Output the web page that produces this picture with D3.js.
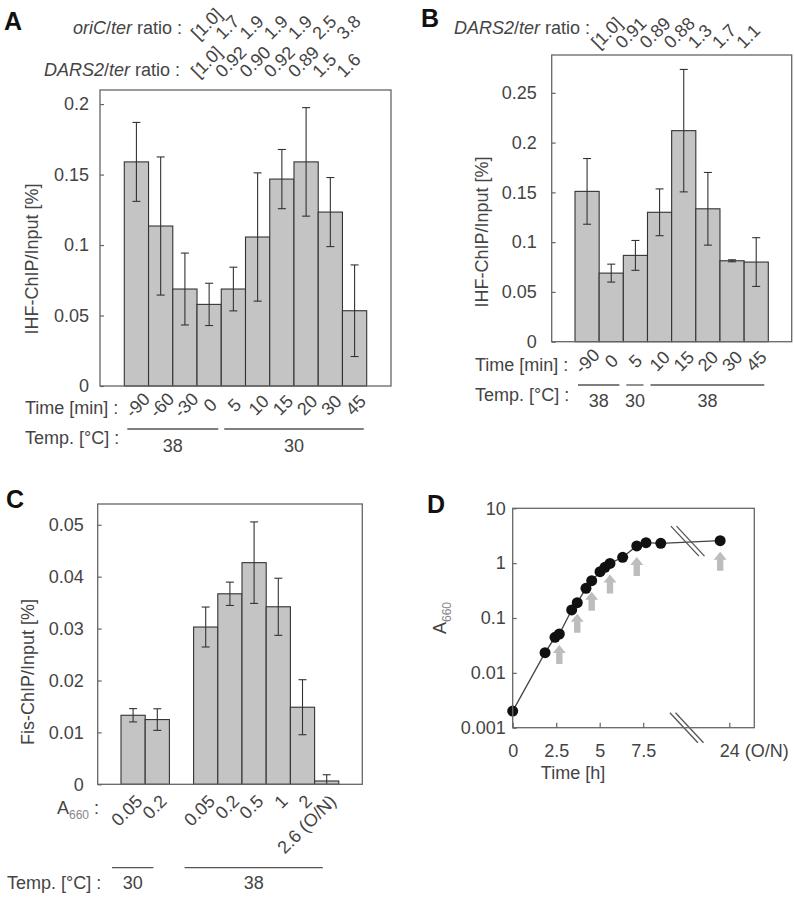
<!DOCTYPE html>
<html><head><meta charset="utf-8">
<script src="https://cdn.jsdelivr.net/npm/d3@7"></script>
<style>
body{margin:0;background:#fff;}
svg text{font-family:"Liberation Sans",Arial,Helvetica,sans-serif;fill:#444;}
</style></head><body>
<svg id="fig" width="794" height="899"></svg>
<script>
// ---------------- DATA ----------------
// Panel A: IHF-ChIP, time course
const aTime = ["-90","-60","-30","0","5","10","15","20","30","45"];
const aValue = [0.159,0.1135,0.0688,0.0579,0.0688,0.1057,0.1468,0.159,0.1234,0.0534];
const aError = [0.028,0.049,0.0255,0.015,0.0155,0.0455,0.021,0.0385,0.0245,0.0325];
const aOriCRatio = ["[1.0]","1.7","1.9","1.9","1.9","2.5","3.8"];     // bars 0,5,...,45 min
const aDarsRatio = ["[1.0]","0.92","0.90","0.92","0.89","1.5","1.6"];
const aRatioStart = 3;
const aTemp = ["38","38","38","38","30","30","30","30","30","30"];
const aYTicks = [0,0.05,0.1,0.15,0.2];

// Panel B: IHF-ChIP
const bTime = ["-90","0","5","10","15","20","30","45"];
const bValue = [0.151,0.0689,0.0867,0.130,0.212,0.1335,0.0813,0.080];
const bError = [0.033,0.009,0.015,0.0235,0.0615,0.0365,0.001,0.0245];
const bDarsRatio = ["[1.0]","0.91","0.89","0.88","1.3","1.7","1.1"];
const bRatioStart = 1;
const bTemp = ["38","38","30","38","38","38","38","38"];
const bYTicks = [0,0.05,0.1,0.15,0.2,0.25];

// Panel C: Fis-ChIP
const cA660 = ["0.05","0.2","0.05","0.2","0.5","1","2","2.6 (O/N)"];
const cTemp = ["30","30","38","38","38","38","38","38"];
const cValue = [0.0133,0.01247,0.0303,0.0367,0.0427,0.0342,0.01485,0.00064];
const cError = [0.00128,0.00208,0.00385,0.00225,0.00785,0.0055,0.0053,0.0012];
const cYTicks = [0,0.01,0.02,0.03,0.04,0.05];

// Panel D: growth curve
const dTime = [0,1.86,2.43,2.68,3.39,3.71,4.21,4.54,5.02,5.30,5.59,6.32,7.13,7.66,8.51,21];
const dA660 = [0.00201,0.0233,0.0445,0.0511,0.140,0.190,0.348,0.479,0.698,0.839,0.99,1.28,2.06,2.36,2.30,2.57];
const dSampled = [3,5,7,10,12,15];
const dXTicks = [0,2.5,5,7.5,24];
const dXTickLabels = ["0","2.5","5","7.5","24 (O/N)"];
const dYTicks = [0.001,0.01,0.1,1,10];
const dYTickLabels = ["0.001","0.01","0.1","1","10"];
const dBreakAt = 10;

// ---------------- STYLE ----------------
const FS = 18, TXT = "#444", FRAME = "#666", BARFILL = "#c4c4c4", BARSTROKE = "#333";
const svg = d3.select("#fig");

function styleAxis(g){
  g.select(".domain").remove();
  g.selectAll("line").attr("stroke", FRAME).attr("stroke-width",1.2);
  g.selectAll("text").attr("font-size", FS).attr("fill", TXT)
    .attr("font-family","Liberation Sans, Arial, sans-serif");
}
function panelLetter(t,x,y){
  svg.append("text").attr("x",x).attr("y",y).attr("font-size",25).attr("font-weight","bold")
    .style("fill","#111").text(t);
}
function frame(x0,y0,x1,y1){
  svg.append("rect").attr("x",x0).attr("y",y0).attr("width",x1-x0).attr("height",y1-y0)
    .attr("fill","none").attr("stroke",FRAME).attr("stroke-width",1.3);
}
function yTitle(x,y,t){
  svg.append("text").attr("transform",`translate(${x},${y}) rotate(-90)`)
    .attr("text-anchor","middle").attr("dy","0.35em").attr("font-size",FS).text(t);
}
function ratioLabel(g,txt,x,y){
  const t = g.append("text").attr("x",x).attr("y",y).attr("text-anchor","end").attr("font-size",FS);
  t.append("tspan").attr("font-style","italic").text(txt);
  t.append("tspan").text("/");
  t.append("tspan").attr("font-style","italic").text("ter");
  t.append("tspan").text(" ratio :");
}

function drawBars(g, x, y, keys, values, errors){
  const bw = x.bandwidth();
  g.selectAll("rect.bar").data(values).join("rect").attr("class","bar")
    .attr("x",(d,i)=>x(keys[i])).attr("y",d=>y(d))
    .attr("width",bw).attr("height",d=>y(0)-y(d))
    .attr("fill",BARFILL).attr("stroke",BARSTROKE).attr("stroke-width",1.1);
  const eg = g.append("g").attr("stroke","#333").attr("stroke-width",1.1);
  values.forEach((v,i)=>{
    const cx = x(keys[i])+bw/2, hi = y(v+errors[i]), lo = y(Math.max(0,v-errors[i]));
    eg.append("line").attr("x1",cx).attr("x2",cx).attr("y1",hi).attr("y2",lo);
    eg.append("line").attr("x1",cx-4).attr("x2",cx+4).attr("y1",hi).attr("y2",hi);
    if (v-errors[i] > 0) eg.append("line").attr("x1",cx-4).attr("x2",cx+4).attr("y1",lo).attr("y2",lo);
  });
}
function tempGroups(temps){
  const out=[]; temps.forEach((t,i)=>{
    if(!out.length || out[out.length-1].t!==t) out.push({t,from:i,to:i}); else out[out.length-1].to=i;});
  return out;
}
function drawTemp(g,x,keys,temps,lineY,labelY,insL,insR,shift){
  const bw=x.bandwidth();
  tempGroups(temps).forEach(gr=>{
    const a=x(keys[gr.from])+insL+shift, b=x(keys[gr.to])+bw-insR+shift;
    g.append("line").attr("x1",a).attr("x2",b).attr("y1",lineY).attr("y2",lineY)
      .attr("stroke","#555").attr("stroke-width",1.3);
    g.append("text").attr("x",(a+b)/2).attr("y",labelY).attr("text-anchor","middle")
      .attr("font-size",FS).text(gr.t);
  });
}

// ---------------- PANEL A ----------------
(function(){
  const g = svg.append("g");
  const keys = d3.range(aTime.length);
  const x = d3.scaleBand().domain(keys).range([124.3,366.7]).padding(0);
  const y = d3.scaleLinear().domain([0,0.21]).range([386,90]);
  const bw = x.bandwidth();
  drawBars(g,x,y,keys,aValue,aError);
  frame(100,90,391,386);
  g.append("g").attr("transform","translate(100,0)")
    .call(d3.axisLeft(y).tickValues(aYTicks).tickFormat(d=>String(d)).tickSizeInner(-4).tickSizeOuter(0).tickPadding(11))
    .call(styleAxis);
  yTitle(32,259,"IHF-ChIP/Input [%]");
  panelLetter("A",4,30);
  ratioLabel(g,"oriC",182,34);
  ratioLabel(g,"DARS2",180,76);
  aOriCRatio.forEach((t,j)=>{
    const cx=x(keys[aRatioStart+j])+bw/2;
    g.append("text").attr("transform",`translate(${cx-15},36) rotate(-45)`).attr("dy","0.35em")
      .attr("font-size",FS).text(t);
  });
  aDarsRatio.forEach((t,j)=>{
    const cx=x(keys[aRatioStart+j])+bw/2;
    g.append("text").attr("transform",`translate(${cx-15},74) rotate(-45)`).attr("dy","0.35em")
      .attr("font-size",FS).text(t);
  });
  g.append("text").attr("x",25).attr("y",414).attr("font-size",FS).text("Time [min] :");
  aTime.forEach((t,i)=>{
    const cx=x(keys[i])+bw/2;
    g.append("text").attr("transform",`translate(${cx+1},405) rotate(-45)`).attr("dy","0.35em")
      .attr("text-anchor","middle").attr("font-size",FS).text(t);
  });
  g.append("text").attr("x",25).attr("y",444).attr("font-size",FS).text("Temp. [°C] :");
  drawTemp(g,x,keys,aTemp,429,452,3,3,0);
})();

// ---------------- PANEL B ----------------
(function(){
  const g = svg.append("g");
  const keys = d3.range(bTime.length);
  const x = d3.scaleBand().domain(keys).range([575,768.3]).padding(0);
  const y = d3.scaleLinear().domain([0,0.288]).range([341.7,55]);
  const bw = x.bandwidth();
  drawBars(g,x,y,keys,bValue,bError);
  frame(551.7,55,791.7,341.7);
  g.append("g").attr("transform","translate(551.7,0)")
    .call(d3.axisLeft(y).tickValues(bYTicks).tickFormat(d=>String(d)).tickSizeInner(-4).tickSizeOuter(0).tickPadding(15))
    .call(styleAxis);
  yTitle(482,232,"IHF-ChIP/Input [%]");
  panelLetter("B",421,27);
  ratioLabel(g,"DARS2",590,34);
  bDarsRatio.forEach((t,j)=>{
    const cx=x(keys[bRatioStart+j])+bw/2;
    g.append("text").attr("transform",`translate(${cx-17},45) rotate(-45)`).attr("dy","0.35em")
      .attr("font-size",FS).text(t);
  });
  g.append("text").attr("x",475).attr("y",371).attr("font-size",FS).text("Time [min] :");
  bTime.forEach((t,i)=>{
    const cx=x(keys[i])+bw/2;
    g.append("text").attr("transform",`translate(${cx},361) rotate(-45)`).attr("dy","0.35em")
      .attr("text-anchor","middle").attr("font-size",FS).text(t);
  });
  g.append("text").attr("x",475).attr("y",401).attr("font-size",FS).text("Temp. [°C] :");
  drawTemp(g,x,keys,bTemp,385,407,3,4,0);
})();

// ---------------- PANEL C ----------------
(function(){
  const g = svg.append("g");
  const domain=[]; const keys=[];
  cA660.forEach((d,i)=>{ if(i>0 && cTemp[i]!==cTemp[i-1]) domain.push("gap"+i); domain.push("k"+i); keys.push("k"+i); });
  const x = d3.scaleBand().domain(domain).range([121,338.8]).padding(0);
  const y = d3.scaleLinear().domain([0,0.054]).range([784.3,504]);
  const bw = x.bandwidth();
  drawBars(g,x,y,keys,cValue,cError);
  frame(97.7,504,362.3,784.3);
  g.append("g").attr("transform","translate(97.7,0)")
    .call(d3.axisLeft(y).tickValues(cYTicks).tickFormat(d=>String(d)).tickSizeInner(-4).tickSizeOuter(0).tickPadding(14))
    .call(styleAxis);
  yTitle(28,672,"Fis-ChIP/Input [%]");
  panelLetter("C",6,508);
  const al = g.append("text").attr("x",57).attr("y",814).attr("font-size",FS);
  al.append("tspan").text("A");
  al.append("tspan").attr("font-size",12).attr("dy",5).style("fill","#888").text("660");
  al.append("tspan").attr("dy",-5).text(" :");
  cA660.forEach((t,i)=>{
    const cx=x(keys[i])+bw/2;
    g.append("text").attr("transform",`translate(${cx+6},798) rotate(-45)`).attr("dy","0.35em")
      .attr("text-anchor","end").attr("font-size",FS).text(t);
  });
  g.append("text").attr("x",7).attr("y",889).attr("font-size",FS).text("Temp. [°C] :");
  drawTemp(g,x,keys,cTemp,867.7,889,-9,16,0);
})();

// ---------------- PANEL D ----------------
(function(){
  const g = svg.append("g");
  const X0=512.7, X1=754.3, Y0=508.3, Y1=727.7;
  const x = d3.scaleLinear().domain([0,dBreakAt,24]).range([X0,686.7,729.3]);
  const y = d3.scaleLog().domain([0.001,10]).range([Y1,Y0]);
  frame(X0,Y0,X1,Y1);
  g.append("g").attr("transform",`translate(0,${Y1})`)
    .call(d3.axisBottom(x).tickValues(dXTicks).tickFormat((d,i)=>dXTickLabels[i]).tickSizeInner(-5).tickSizeOuter(0).tickPadding(17))
    .call(styleAxis)
    .call(a=>a.selectAll(".tick").filter(d=>d===24).select("text").attr("text-anchor","start").attr("x",-10));
  g.append("g").attr("transform",`translate(${X0},0)`)
    .call(d3.axisLeft(y).tickValues(dYTicks).tickFormat((d,i)=>dYTickLabels[i]).tickSizeInner(-4).tickSizeOuter(0).tickPadding(7))
    .call(styleAxis);
  panelLetter("D",427,513);
  g.append("text").attr("x",573).attr("y",779).attr("text-anchor","middle").attr("font-size",FS).text("Time [h]");
  const yl = g.append("text").attr("transform","translate(446,618) rotate(-90)").attr("text-anchor","middle").attr("font-size",FS);
  yl.append("tspan").text("A");
  yl.append("tspan").attr("font-size",12).attr("dy",5).style("fill","#888").text("660");

  const pts = dTime.map((t,i)=>[x(t),y(dA660[i])]);
  g.append("path").attr("d",d3.line()(pts)).attr("fill","none").attr("stroke","#444").attr("stroke-width",1.3);

  // break marks
  const bx = x(dBreakAt);
  const k = pts.findIndex(p=>p[0]>bx);
  const by = pts[k-1][1] + (pts[k][1]-pts[k-1][1])*(bx-pts[k-1][0])/(pts[k][0]-pts[k-1][0]);
  [[bx+1,by-1],[bx,Y1]].forEach(([cx,cy])=>{
    [-2.8,2.8].forEach(o=>{
      g.append("line").attr("x1",cx+o-14).attr("y1",cy-15).attr("x2",cx+o+14).attr("y2",cy+15)
        .attr("stroke","#555").attr("stroke-width",1.3);
    });
  });

  // arrows for sampled points
  dSampled.forEach(i=>{
    const cx=pts[i][0], tip=pts[i][1]+11;
    const sw=3.2, hw=6.5, hh=8, len=19;
    g.append("path").attr("d",
      `M${cx},${tip} L${cx+hw},${tip+hh} L${cx+sw},${tip+hh} L${cx+sw},${tip+len} L${cx-sw},${tip+len} L${cx-sw},${tip+hh} L${cx-hw},${tip+hh} Z`)
      .attr("fill","#bdbdbd");
  });

  g.selectAll("circle").data(pts).join("circle").attr("cx",d=>d[0]).attr("cy",d=>d[1]).attr("r",5.5).attr("fill","#111");
})();
</script>
</body></html>
